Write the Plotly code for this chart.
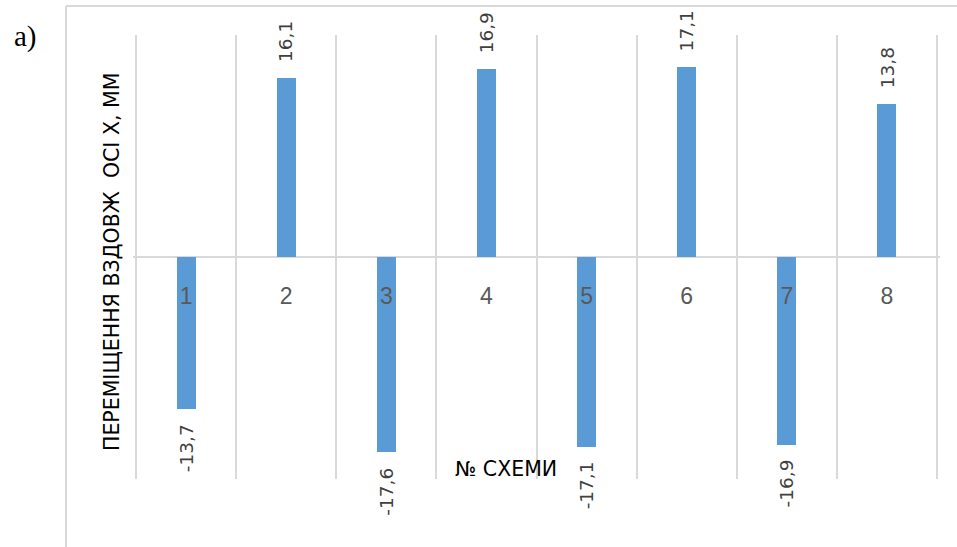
import plotly.graph_objects as go

categories = ["1", "2", "3", "4", "5", "6", "7", "8"]
values = [-13.7, 16.1, -17.6, 16.9, -17.1, 17.1, -16.9, 13.8]
y_title = "ПЕРЕМІЩЕННЯ ВЗДОВЖ  ОСІ Х, ММ"
x_title = "№ СХЕМИ"
panel_label = "a)"

W, H = 957, 547
L, R, T, B = 133, 17, 35, 68
PW, PH = W - L - R, H - T - B

def px(xp):
    return (xp - L) / PW

def py(yp):
    return (H - B - yp) / PH

BLUE = "#5B9BD5"
GRID = "#D9D9D9"
FONT = "DejaVu Sans"

fig = go.Figure()
fig.add_trace(go.Bar(
    x=categories, y=values, width=0.19,
    marker=dict(color=BLUE, line=dict(width=0)),
    hoverinfo="skip",
))

annotations = []
for i, v in enumerate(values):
    annotations.append(dict(
        x=i, y=v, xref="x", yref="y",
        text=f"{v:.1f}".replace(".", ","),
        textangle=-90, showarrow=False,
        xanchor="center",
        yanchor="bottom" if v >= 0 else "top",
        yshift=14 if v >= 0 else -13,
        font=dict(family=FONT, size=18.5, color="#404040"),
    ))

annotations.append(dict(
    x=px(112), y=py(262), xref="paper", yref="paper",
    xanchor="center", yanchor="middle",
    text=y_title, textangle=-90, showarrow=False,
    font=dict(family=FONT, size=20.5, color="#000000"),
))
annotations.append(dict(
    x=px(506), y=py(469), xref="paper", yref="paper",
    xanchor="center", yanchor="middle",
    text=x_title, showarrow=False,
    font=dict(family=FONT, size=20.5, color="#000000"),
))
annotations.append(dict(
    x=px(25), y=py(37), xref="paper", yref="paper",
    xanchor="center", yanchor="middle",
    text=panel_label, showarrow=False,
    font=dict(family="Liberation Serif", size=29, color="#000000"),
))

shapes = [
    dict(type="line", xref="paper", yref="paper",
         x0=px(66), x1=px(66), y0=py(6), y1=py(H + 5),
         line=dict(color=GRID, width=2)),
    dict(type="line", xref="paper", yref="paper",
         x0=px(66), x1=px(W + 5), y0=py(6), y1=py(6),
         line=dict(color=GRID, width=2)),
]

fig.update_layout(
    width=W, height=H,
    margin=dict(l=L, r=R, t=T, b=B, pad=0),
    paper_bgcolor="white", plot_bgcolor="white",
    showlegend=False,
    bargap=0,
    annotations=annotations,
    shapes=shapes,
    xaxis=dict(
        type="category", range=[-0.53, 7.53],
        tickson="boundaries", showgrid=True, gridcolor=GRID, gridwidth=1.5,
        showline=False, zeroline=False, ticks="",
        anchor="free", position=0.5,
        ticklabelstandoff=23,
        tickfont=dict(family="Liberation Sans", size=23, color="#595959"),
        fixedrange=True,
    ),
    yaxis=dict(
        range=[-20, 20], showgrid=False, showticklabels=False, ticks="",
        zeroline=True, zerolinecolor=GRID, zerolinewidth=1.5,
        showline=False, fixedrange=True,
    ),
)

fig.write_html(
    "out.html",
    config={"displayModeBar": False},
    post_script="document.body.style.margin='0';document.body.style.overflow='hidden';",
)
